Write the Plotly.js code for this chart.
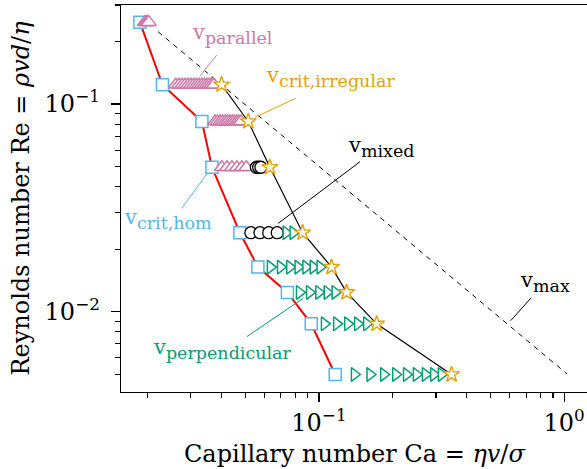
<!DOCTYPE html>
<html><head><meta charset="utf-8">
<script src="https://cdn.plot.ly/plotly-3.0.1.min.js"></script>
<style>html,body{margin:0;padding:0;background:#fff}</style>
</head><body><div id="chart" style="width:587px;height:469px"></div>
<script>
// v_crit,hom (squares + red line)
const homCa = [0.01863, 0.02301, 0.03334, 0.03663, 0.04763, 0.05640, 0.07437, 0.09302, 0.1165];
const homRe = [0.248, 0.1239, 0.0824, 0.0496, 0.0240, 0.01639, 0.01238, 0.00874, 0.00498];
// v_parallel (pink triangles)
const parallelRe = [0.248, 0.1239, 0.0824, 0.0496];
const parallelCa = [
  [0.0195, 0.01975, 0.0200, 0.02025],
  [0.0261, 0.0269, 0.0277, 0.0285, 0.0293, 0.0301, 0.0309, 0.0317, 0.0325, 0.0333, 0.0341, 0.0349, 0.0357, 0.0365, 0.0373],
  [0.0377, 0.0386, 0.0396, 0.0405, 0.0415, 0.0424, 0.0434, 0.0443, 0.0452, 0.0462, 0.0471, 0.0481],
  [0.0402, 0.0422, 0.0442, 0.0463, 0.0485, 0.0506]
];
// v_mixed (black circles)
const mixedRe = [0.0496, 0.0240];
const mixedCa = [
  [0.0556, 0.0568, 0.0580],
  [0.0528, 0.0575, 0.0624, 0.0676]
];
// v_perpendicular (green triangles)
const perpRe = [0.0240, 0.01639, 0.01238, 0.00874, 0.00498];
const perpCa = [
  [0.0735, 0.0785],
  [0.0634, 0.0697, 0.0760, 0.0822, 0.0885, 0.0948, 0.1011],
  [0.0833, 0.0916, 0.0999, 0.1081, 0.1164],
  [0.1053, 0.1181, 0.1310, 0.1438, 0.1566],
  [0.1395, 0.1615, 0.1836, 0.2056, 0.2276, 0.2496, 0.2717, 0.2937, 0.3157]
];
// v_crit,irregular (orange stars + black line)
const irregularCa = [0.0401, 0.0515, 0.0631, 0.0858, 0.1126, 0.1297, 0.1719, 0.3475];
const irregularRe = [0.1239, 0.0824, 0.0496, 0.0240, 0.01639, 0.01238, 0.00874, 0.00498];
// v_max (dashed)
const maxCa = [0.02208, 1.028];
const maxRe = [0.2232, 0.005006];
// ticks
const xTickVals = [0.1, 1];
const xTickText = ['10<sup>−1</sup>', '10<sup>0</sup>'];
const yTickVals = [0.01, 0.1];
const yTickText = ['10<sup>−2</sup>', '10<sup>−1</sup>'];
const xMinor = [0.02, 0.03, 0.04, 0.05, 0.06, 0.07, 0.08, 0.09, 0.2, 0.3, 0.4, 0.5, 0.6, 0.7, 0.8, 0.9];
const yMinor = [0.005, 0.006, 0.007, 0.008, 0.009, 0.02, 0.03, 0.04, 0.05, 0.06, 0.07, 0.08, 0.09, 0.2, 0.3];

const C_PINK = '#CC79A7', C_ORANGE = '#E69F00', C_BLUE = '#56B4E9', C_GREEN = '#009E73';
const FONT = 'DejaVu Serif';

function flat(caRows, reRows) {
  const x = [], y = [];
  caRows.forEach((row, i) => row.forEach(v => { x.push(v); y.push(reRows[i]); }));
  return {x, y};
}
const par = flat(parallelCa, parallelRe);
const mix = flat(mixedCa, mixedRe);
const per = flat(perpCa, perpRe);

const traces = [
  {x: homCa, y: homRe, mode: 'lines', line: {color: '#ff0000', width: 2}},
  {x: irregularCa, y: irregularRe, mode: 'lines', line: {color: '#000', width: 1.2}},
  {x: maxCa, y: maxRe, mode: 'lines', line: {color: '#000', width: 1, dash: '5px,5px'}},
  {x: homCa, y: homRe, mode: 'markers', marker: {symbol: 'square', size: 12, color: '#fff', line: {color: C_BLUE, width: 1.5}}},
  {x: par.x, y: par.y, mode: 'markers', marker: {symbol: 'triangle-up', size: 13, color: '#fff', line: {color: C_PINK, width: 1.5}}},
  {x: mix.x, y: mix.y, mode: 'markers', marker: {symbol: 'circle', size: 12, color: '#fff', line: {color: '#000', width: 1.3}}},
  {x: per.x, y: per.y, mode: 'markers', marker: {symbol: 'triangle-right', size: 12, color: '#fff', line: {color: C_GREEN, width: 1.5}}},
  {x: irregularCa, y: irregularRe, mode: 'markers', marker: {symbol: 'star', size: 12, color: '#fff', line: {color: C_ORANGE, width: 1.4}}}
];

const L = 121, R = 587, T = 5, B = 392;
const px = p => (p - L) / (R - L);
const py = p => (B - p) / (B - T);

function label(sub, color, left, baseline) {
  return {xref: 'paper', yref: 'paper', x: px(left), y: py(baseline - 8), xanchor: 'left', yanchor: 'middle',
    showarrow: false, text: '<span style="font-size:21px">v</span><sub>' + sub + '</sub>',
    font: {family: FONT, size: 25, color: color}};
}
function leader(color, x0, y0, x1, y1) {
  return {type: 'line', xref: 'paper', yref: 'paper', x0: px(x0), y0: py(y0), x1: px(x1), y1: py(y1),
    line: {color: color, width: 1}};
}

const layout = {
  width: 587, height: 469,
  margin: {l: L, r: 587 - R, t: T, b: 469 - B, pad: 0},
  paper_bgcolor: '#fff', plot_bgcolor: '#fff',
  showlegend: false,
  font: {family: FONT, color: '#000', size: 24},
  xaxis: {
    type: 'log', range: [-1.807, 0.093],
    tickmode: 'array', tickvals: xTickVals, ticktext: xTickText,
    ticks: 'outside', ticklen: 9, tickwidth: 1.3, tickcolor: '#000',
    minor: {tickmode: 'array', tickvals: xMinor, ticks: 'outside', ticklen: 5, tickwidth: 1.1, tickcolor: '#000', showgrid: false},
    showline: true, linecolor: '#000', linewidth: 1.3, mirror: true,
    showgrid: false, zeroline: false,
    tickfont: {family: FONT, size: 24, color: '#000'}
  },
  yaxis: {
    type: 'log', range: [-2.387, -0.5229],
    tickmode: 'array', tickvals: yTickVals, ticktext: yTickText,
    ticks: 'outside', ticklen: 9, tickwidth: 1.3, tickcolor: '#000',
    ticklabelstandoff: 6,
    minor: {tickmode: 'array', tickvals: yMinor, ticks: 'outside', ticklen: 5, tickwidth: 1.1, tickcolor: '#000', showgrid: false},
    showline: true, linecolor: '#000', linewidth: 1.3, mirror: false,
    showgrid: false, zeroline: false,
    tickfont: {family: FONT, size: 24, color: '#000'},
    title: {text: 'Reynolds number Re = <i>ρvd</i>/<i>η</i>', font: {family: FONT, size: 24, color: '#000'}, standoff: 8}
  },
  annotations: [
    {xref: 'paper', yref: 'paper', x: px(354), y: py(454.5), xanchor: 'center', yanchor: 'middle', showarrow: false,
      text: 'Capillary number Ca = <i>ηv</i>/<i>σ</i>', font: {family: FONT, size: 24, color: '#000'}},
    label('parallel', C_PINK, 190, 42),
    label('crit,irregular', C_ORANGE, 264, 85),
    label('mixed', '#000', 346, 155),
    label('crit,hom', C_BLUE, 122, 227),
    label('perpendicular', C_GREEN, 151, 357),
    label('max', '#000', 518, 290)
  ],
  shapes: [
    leader(C_PINK, 216.7, 55, 200, 76),
    leader(C_ORANGE, 295.7, 98.3, 255, 117.3),
    leader('#000', 360, 161.7, 278.3, 223.3),
    leader(C_BLUE, 207.3, 173.3, 181.7, 208.3),
    leader(C_GREEN, 303.3, 298.3, 246.7, 336.7),
    leader('#000', 530.7, 298.3, 510.7, 320.7)
  ]
};

Plotly.newPlot('chart', traces, layout, {staticPlot: true, displayModeBar: false});
</script></body></html>
